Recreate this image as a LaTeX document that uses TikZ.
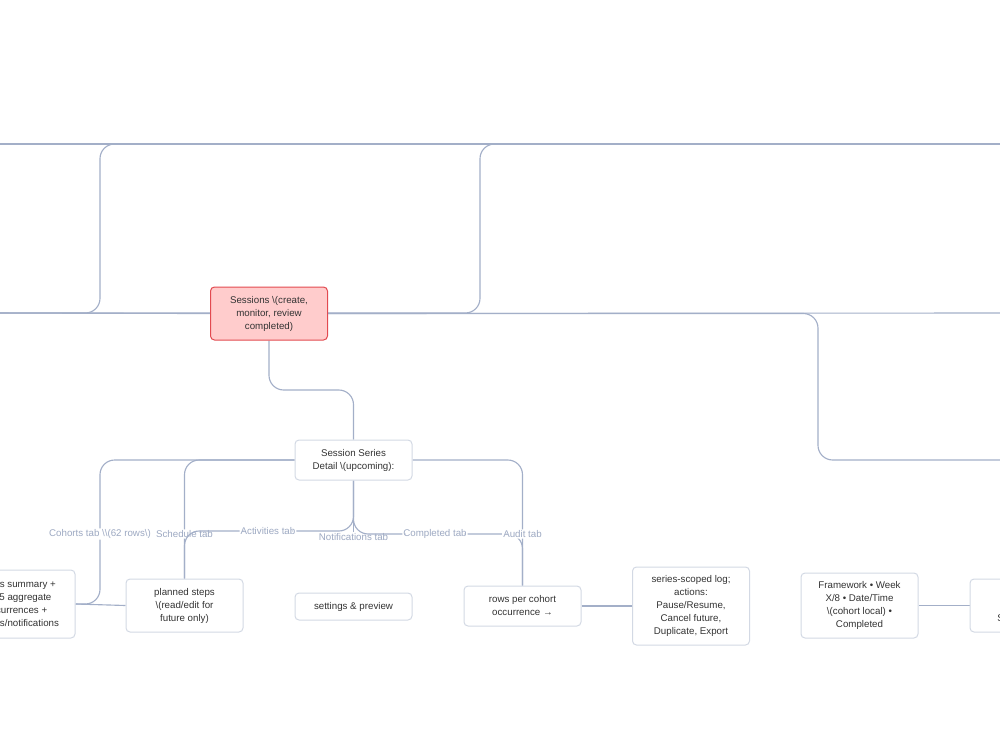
\documentclass[tikz,border=0pt]{standalone}
\usepackage{fontspec}
\setmainfont{Liberation Sans}
\usetikzlibrary{positioning, calc, backgrounds}
\definecolor{linkGray}{HTML}{A3AFC8}
\definecolor{boxLine}{HTML}{D3D9E4}
\definecolor{textDark}{HTML}{333333}
\definecolor{tabText}{HTML}{9DA9C2}
\definecolor{hotFill}{HTML}{FFCCCC}
\definecolor{hotLine}{HTML}{E24A50}
\tikzset{
  box/.style={draw=boxLine, line width=0.75pt, rounded corners=3pt, fill=white,
              align=center, text=textDark, font=\fontsize{7.3}{9.75}\selectfont,
              minimum width=87.75pt, inner sep=2pt},
  hot/.style={box, draw=hotLine, fill=hotFill},
  link/.style={draw=linkGray, line width=0.85pt, rounded corners=11pt},
  tab/.style={fill=white, text=tabText, font=\fontsize{7.3}{9.75}\selectfont, inner sep=0.8pt},
}

\begin{document}
\begin{tikzpicture}[x=0.75pt, y=-0.75pt]
\useasboundingbox (0,0) rectangle (1000,750);
\clip (0,0) rectangle (1000,750);

% main nodes
\node[hot, minimum height=39.75pt] (sess) at (269,313.5) {Sessions \textbackslash(create,\\monitor, review\\completed)};
\node[box, minimum height=30pt] (ssd) at (353.5,460) {Session Series\\Detail \textbackslash(upcoming):};

% tab targets
\node[box, minimum height=51pt] (cohorts) at (16.5,604) {Status summary +\\last 5 aggregate\\occurrences +\\actions/notifications};
\node[box, minimum height=39.75pt] (plan) at (184.5,605.5) {planned steps\\\textbackslash(read/edit for\\future only)};
\node[box, minimum height=20.25pt] (prefs) at (353.5,606.5) {settings \& preview};
\node[box, minimum height=30pt] (rows) at (522.5,606) {rows per cohort\\occurrence →};
\node[box, minimum height=58.5pt] (audit) at (691,606) {series-scoped log;\\actions:\\Pause/Resume,\\Cancel future,\\Duplicate, Export};
\node[box, minimum height=48.75pt] (frame) at (859.5,605.5) {Framework • Week\\X/8 • Date/Time\\\textbackslash(cohort local) •\\Completed};
\node[box, minimum height=39.75pt] (detail) at (1028.5,605.5) {row →\\opens\\Session Detail};

% loose ends off the page
\coordinate (offL) at (-20,313);
\coordinate (offR) at (1020,313);
\coordinate (offTL) at (-20,144);
\coordinate (offTR) at (1020,144);
\coordinate (offMR) at (1020,460);

\begin{scope}[on background layer]
% upper lines
\draw[link] (offTL) -- (offTR);
\draw[link] (offL) -- (sess.west);
\draw[link] (sess.east) -- (offR);
\draw[link] (offL) -| (100,144) -- (offTR);
\draw[link] (offL) -| (480,144) -- (offTR);
\draw[link] (sess.east) -| (818,460) -- (offMR);

% sessions to series detail
\draw[link] (sess.south) |- (353.5,390) -- (ssd.north);

% tabs
\draw[link] (ssd.west) -| (100,534) node[tab] {Cohorts tab \textbackslash\textbackslash(62 rows\textbackslash)} |- (cohorts.east);
\draw[link] (ssd.west) -| (184.5,534) node[tab] {Schedule tab} -- (plan.north);
\draw[link] (ssd.south) |- (268,531) node[tab] {Activities tab} -| (plan.north);
\node[tab] (notif) at (353.5,537) {Notifications tab};
\draw[link] (ssd.south) -- (notif.north);
\draw[link] (ssd.south) |- (435,534) node[tab] {Completed tab} -| (rows.north);
\draw[link] (ssd.east) -| (522.5,534) node[tab] {Audit tab} -- (rows.north);

% row links
\draw[link] (plan.west) -- (cohorts.east);
\draw[link] (rows.east) -- (audit.west);
\draw[link] (frame.east) -- (detail.west);
\end{scope}

\end{tikzpicture}
\end{document}
